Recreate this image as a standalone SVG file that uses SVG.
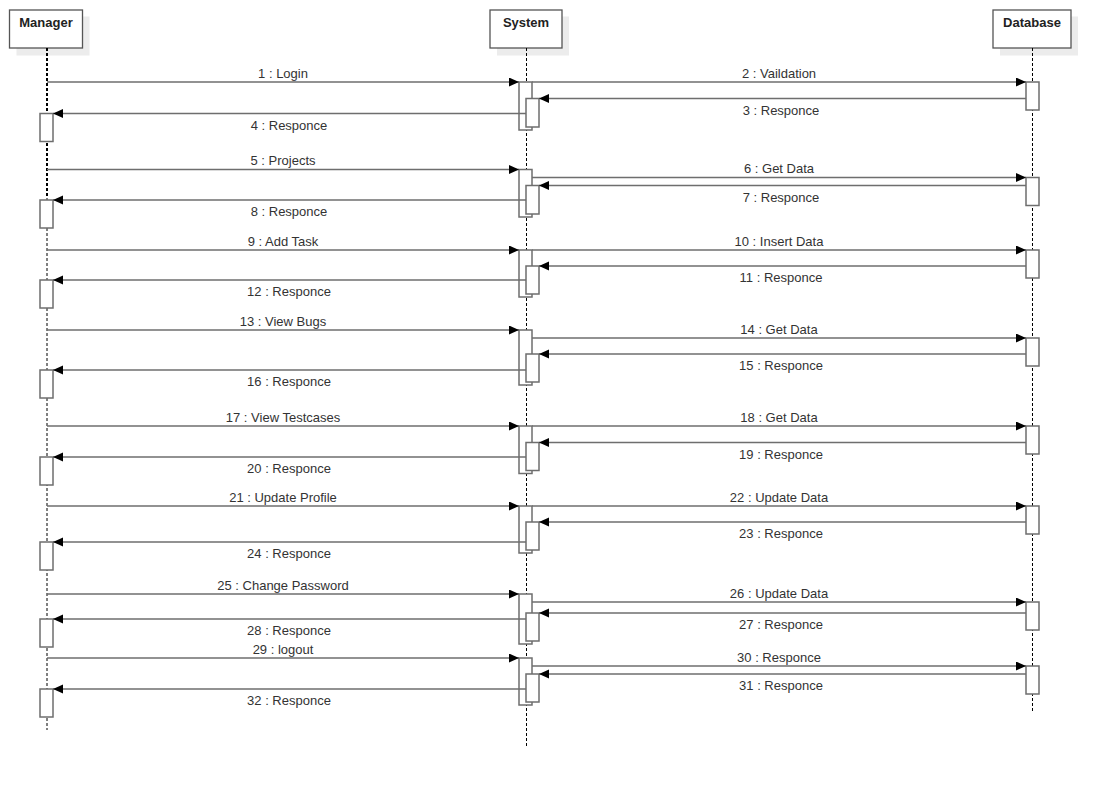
<svg xmlns="http://www.w3.org/2000/svg" width="1110" height="792" viewBox="0 0 1110 792">
<defs>
<style>
.hdr{fill:#fff;stroke:#555;stroke-width:1.3}
.shd{fill:#ececec}
.ht{font-family:"Liberation Sans",Arial,sans-serif;font-size:13px;font-weight:bold;fill:#222;text-anchor:middle}
.life{stroke:#000;stroke-width:1;stroke-dasharray:3,2;fill:none}
.act{fill:#fff;stroke:#6e6e6e;stroke-width:1.5}
.msg{stroke:#6e6e6e;stroke-width:1.4;fill:none;marker-end:url(#ah)}
.lbl{font-family:"Liberation Sans",Arial,sans-serif;font-size:13px;fill:#333;text-anchor:middle}
</style>
<marker id="ah" markerUnits="userSpaceOnUse" markerWidth="11" markerHeight="10" refX="10" refY="4.5" orient="auto">
<path d="M0,0 L10,4.5 L0,9 z" fill="#000"/>
</marker>
</defs>
<rect width="1110" height="792" fill="#fff"/>

<g id="manager">
<rect class="shd" x="16.5" y="16.5" width="73" height="39"/>
<rect class="hdr" x="9.5" y="10" width="73" height="38"/>
<text class="ht" x="46" y="27">Manager</text>
<line x1="47" y1="48" x2="47" y2="198" stroke="#000" stroke-width="2" stroke-dasharray="3,2"/>
<line class="life" x1="47" y1="198" x2="47" y2="730"/>
</g>
<g id="system">
<rect class="shd" x="497" y="16.5" width="72" height="39"/>
<rect class="hdr" x="490" y="10" width="72" height="38"/>
<text class="ht" x="526" y="27">System</text>
<line class="life" x1="526.5" y1="48" x2="526.5" y2="748"/>
</g>
<g id="database">
<rect class="shd" x="1000" y="16.5" width="78" height="39"/>
<rect class="hdr" x="993" y="10" width="78" height="38"/>
<text class="ht" x="1032" y="27">Database</text>
<line class="life" x1="1032.5" y1="48" x2="1032.5" y2="713"/>
</g>

<g id="activations">
<!-- row1 -->
<rect class="act" x="519" y="82" width="13" height="48"/>
<rect class="act" x="526" y="98.5" width="13" height="28.5"/>
<rect class="act" x="1026" y="82" width="13" height="28"/>
<rect class="act" x="40" y="113.5" width="13" height="28"/>
<!-- row2 -->
<rect class="act" x="519" y="169.5" width="13" height="47.5"/>
<rect class="act" x="526" y="185.5" width="13" height="28.5"/>
<rect class="act" x="1026" y="177.5" width="13" height="28"/>
<rect class="act" x="40" y="200" width="13" height="28"/>
<!-- row3 -->
<rect class="act" x="519" y="250" width="13" height="47"/>
<rect class="act" x="526" y="266" width="13" height="28"/>
<rect class="act" x="1026" y="250" width="13" height="28"/>
<rect class="act" x="40" y="280" width="13" height="28"/>
<!-- row4 -->
<rect class="act" x="519" y="330" width="13" height="55"/>
<rect class="act" x="526" y="354" width="13" height="28"/>
<rect class="act" x="1026" y="338" width="13" height="28"/>
<rect class="act" x="40" y="370" width="13" height="28"/>
<!-- row5 -->
<rect class="act" x="519" y="426" width="13" height="47.5"/>
<rect class="act" x="526" y="442.5" width="13" height="28"/>
<rect class="act" x="1026" y="426" width="13" height="28"/>
<rect class="act" x="40" y="457" width="13" height="28"/>
<!-- row6 -->
<rect class="act" x="519" y="506" width="13" height="47"/>
<rect class="act" x="526" y="522" width="13" height="28"/>
<rect class="act" x="1026" y="506" width="13" height="28"/>
<rect class="act" x="40" y="542" width="13" height="28"/>
<!-- row7 -->
<rect class="act" x="519" y="594" width="13" height="50"/>
<rect class="act" x="526" y="613" width="13" height="28"/>
<rect class="act" x="1026" y="602" width="13" height="28"/>
<rect class="act" x="40" y="619" width="13" height="28"/>
<!-- row8 -->
<rect class="act" x="519" y="658" width="13" height="47"/>
<rect class="act" x="526" y="674" width="13" height="28"/>
<rect class="act" x="1026" y="666" width="13" height="28"/>
<rect class="act" x="40" y="689" width="13" height="28"/>
</g>

<g id="connectors">
<!-- row1 -->
<line class="msg" x1="47" y1="82" x2="519" y2="82"/>
<line class="msg" x1="532" y1="82" x2="1026" y2="82"/>
<line class="msg" x1="1026" y1="98.5" x2="539" y2="98.5"/>
<line class="msg" x1="526" y1="113.5" x2="53" y2="113.5"/>
<!-- row2 -->
<line class="msg" x1="47" y1="169.5" x2="519" y2="169.5"/>
<line class="msg" x1="532" y1="177.5" x2="1026" y2="177.5"/>
<line class="msg" x1="1026" y1="185.5" x2="539" y2="185.5"/>
<line class="msg" x1="526" y1="200" x2="53" y2="200"/>
<!-- row3 -->
<line class="msg" x1="47" y1="250" x2="519" y2="250"/>
<line class="msg" x1="532" y1="250" x2="1026" y2="250"/>
<line class="msg" x1="1026" y1="266" x2="539" y2="266"/>
<line class="msg" x1="526" y1="280" x2="53" y2="280"/>
<!-- row4 -->
<line class="msg" x1="47" y1="330" x2="519" y2="330"/>
<line class="msg" x1="532" y1="338" x2="1026" y2="338"/>
<line class="msg" x1="1026" y1="354" x2="539" y2="354"/>
<line class="msg" x1="526" y1="370" x2="53" y2="370"/>
<!-- row5 -->
<line class="msg" x1="47" y1="426" x2="519" y2="426"/>
<line class="msg" x1="532" y1="426" x2="1026" y2="426"/>
<line class="msg" x1="1026" y1="442.5" x2="539" y2="442.5"/>
<line class="msg" x1="526" y1="457" x2="53" y2="457"/>
<!-- row6 -->
<line class="msg" x1="47" y1="506" x2="519" y2="506"/>
<line class="msg" x1="532" y1="506" x2="1026" y2="506"/>
<line class="msg" x1="1026" y1="522" x2="539" y2="522"/>
<line class="msg" x1="526" y1="542" x2="53" y2="542"/>
<!-- row7 -->
<line class="msg" x1="47" y1="594" x2="519" y2="594"/>
<line class="msg" x1="532" y1="602" x2="1026" y2="602"/>
<line class="msg" x1="1026" y1="613" x2="539" y2="613"/>
<line class="msg" x1="526" y1="619" x2="53" y2="619"/>
<!-- row8 -->
<line class="msg" x1="47" y1="658" x2="519" y2="658"/>
<line class="msg" x1="532" y1="666" x2="1026" y2="666"/>
<line class="msg" x1="1026" y1="674" x2="539" y2="674"/>
<line class="msg" x1="526" y1="689" x2="53" y2="689"/>
</g>

<g id="labels">
<text class="lbl" x="283" y="77.5">1 : Login</text>
<text class="lbl" x="779" y="77.5">2 : Vaildation</text>
<text class="lbl" x="781" y="114.5">3 : Responce</text>
<text class="lbl" x="289" y="129.5">4 : Responce</text>

<text class="lbl" x="283" y="165">5 : Projects</text>
<text class="lbl" x="779" y="173">6 : Get Data</text>
<text class="lbl" x="781" y="201.5">7 : Responce</text>
<text class="lbl" x="289" y="216">8 : Responce</text>

<text class="lbl" x="283" y="245.5">9 : Add Task</text>
<text class="lbl" x="779" y="245.5">10 : Insert Data</text>
<text class="lbl" x="781" y="282">11 : Responce</text>
<text class="lbl" x="289" y="296">12 : Responce</text>

<text class="lbl" x="283" y="325.5">13 : View Bugs</text>
<text class="lbl" x="779" y="333.5">14 : Get Data</text>
<text class="lbl" x="781" y="370">15 : Responce</text>
<text class="lbl" x="289" y="386">16 : Responce</text>

<text class="lbl" x="283" y="421.5">17 : View Testcases</text>
<text class="lbl" x="779" y="421.5">18 : Get Data</text>
<text class="lbl" x="781" y="458.5">19 : Responce</text>
<text class="lbl" x="289" y="473">20 : Responce</text>

<text class="lbl" x="283" y="501.5">21 : Update Profile</text>
<text class="lbl" x="779" y="501.5">22 : Update Data</text>
<text class="lbl" x="781" y="538">23 : Responce</text>
<text class="lbl" x="289" y="558">24 : Responce</text>

<text class="lbl" x="283" y="589.5">25 : Change Password</text>
<text class="lbl" x="779" y="597.5">26 : Update Data</text>
<text class="lbl" x="781" y="629">27 : Responce</text>
<text class="lbl" x="289" y="635">28 : Responce</text>

<text class="lbl" x="283" y="653.5">29 : logout</text>
<text class="lbl" x="779" y="661.5">30 : Responce</text>
<text class="lbl" x="781" y="690">31 : Responce</text>
<text class="lbl" x="289" y="705">32 : Responce</text>
</g>
</svg>
